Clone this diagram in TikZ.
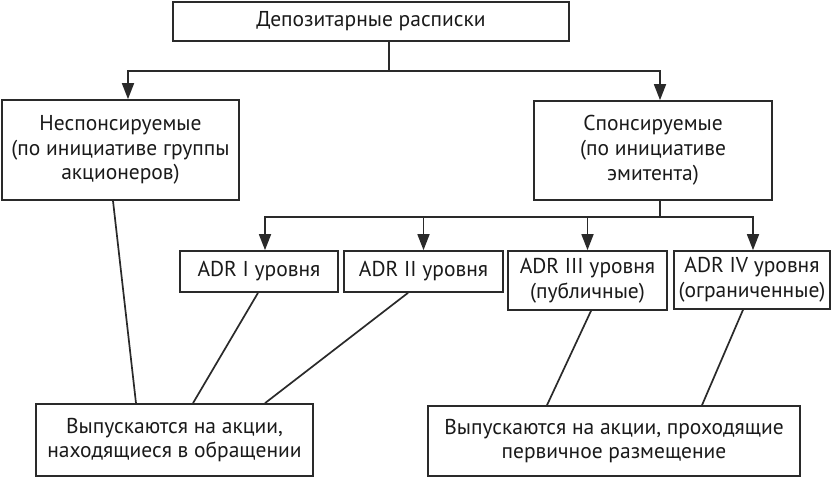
\documentclass[tikz,border=0pt]{standalone}
\usepackage{fontspec}
\setmainfont{PT Sans}
\usetikzlibrary{arrows.meta}
\definecolor{ln}{HTML}{2A2A2A}
\definecolor{tx}{HTML}{1A1A1A}
\tikzset{
  box/.style={draw=ln, line width=1.7pt, fill=white, align=center, inner sep=0pt,
    text=tx, font=\fontsize{21.5}{24.8}\selectfont},
  conn/.style={draw=ln, line width=1.7pt},
  arr/.style={conn, -{Triangle[length=16pt,width=12pt]}}
}
\begin{document}
\begin{tikzpicture}[x=1pt,y=-1pt]
\useasboundingbox[fill=white] (0,0) rectangle (832,478);
\node[box, minimum width=396pt, minimum height=39pt] (top) at (371,21.5) {Депозитарные расписки};
\node[box, minimum width=237pt, minimum height=100pt] (left) at (120.5,150) {Неспонсируемые\\(по инициативе группы\\акционеров)};
\node[box, minimum width=238pt, minimum height=99pt] (right) at (653,150.5) {Спонсируемые\\(по инициативе\\эмитента)};
\node[box, minimum width=158pt, minimum height=41pt] (a1) at (259,271.5) {ADR I уровня};
\node[box, minimum width=159pt, minimum height=41pt] (a2) at (423.5,271.5) {ADR II уровня};
\node[box, minimum width=159pt, minimum height=59pt] (a3) at (587.5,280.5) {ADR III уровня\\(публичные)};
\node[box, minimum width=156pt, minimum height=58pt] (a4) at (752,280) {ADR IV уровня\\(ограниченные)};
\node[box, minimum width=277pt, minimum height=72pt] (bl) at (174.5,440) {Выпускаются на акции,\\находящиеся в обращении};
\node[box, minimum width=372pt, minimum height=70pt] (br) at (614,441) {Выпускаются на акции, проходящие\\первичное размещение};
% first level
\coordinate (j1) at (389,71);
\draw[conn] ([xshift=18pt]top.south) -- (j1);
\draw[arr] (j1) -| ([xshift=7.5pt]left.north);
\draw[arr] (j1) -| ([xshift=7pt]right.north);
% second level
\coordinate (j2) at (660,217);
\draw[conn] ([xshift=7pt]right.south) -- (j2);
\draw[arr] (j2) -| ([xshift=6pt]a1.north);
\draw[arr] (j2) -| (a2.north);
\draw[arr] (j2) -| (a3.north);
\draw[arr] (j2) -| ([xshift=1pt]a4.north);
% lower lines
\draw[conn] ([xshift=-7.5pt]left.south) -- ([xshift=-38.5pt]bl.north);
\draw[conn] ([xshift=-1pt]a1.south) -- ([xshift=18.5pt]bl.north);
\draw[conn] ([xshift=-15.5pt]a2.south) -- ([xshift=90.5pt]bl.north);
\draw[conn] ([xshift=3.5pt]a3.south) -- ([xshift=-67pt]br.north);
\draw[conn] ([xshift=-9pt]a4.south) -- ([xshift=88pt]br.north);
\end{tikzpicture}
\end{document}
